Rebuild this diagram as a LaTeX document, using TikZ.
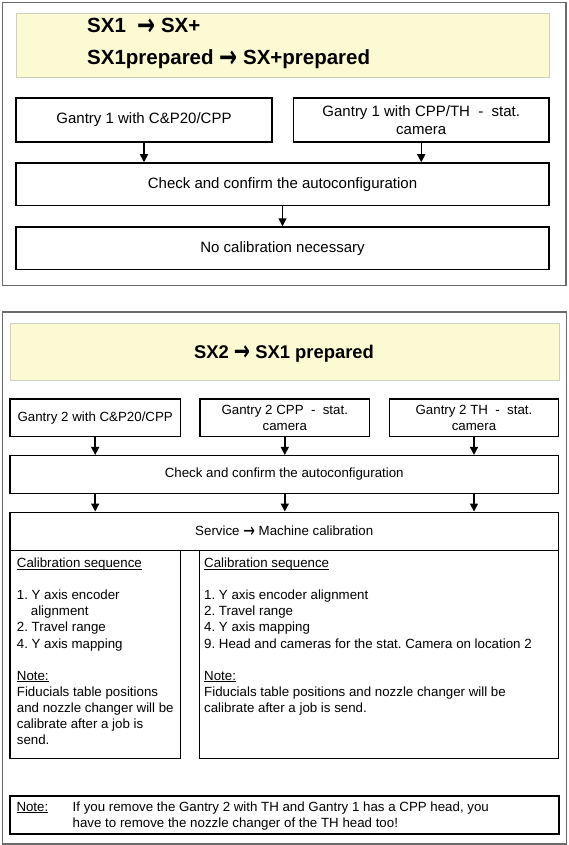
\documentclass[tikz,border=0pt]{standalone}
\usepackage{fontspec}
\usepackage{graphicx}
\setmainfont{Liberation Sans}
\newfontfamily\arrowfont{DejaVu Sans}
\usetikzlibrary{arrows.meta}
\definecolor{framegray}{HTML}{6A6A6A}
\definecolor{titlefill}{HTML}{FBFAD2}
\definecolor{titleborder}{HTML}{CFCFBE}
\newcommand\myul[1]{\leavevmode\setbox0\hbox{#1}\rlap{\rule[-2pt]{\wd0}{0.9pt}}\box0}
\newcommand\rarr{\raisebox{-0.12em}{\scalebox{1.05}[1.5]{\arrowfont →}}}
\newcommand\fA{\fontsize{15}{17.3}\selectfont}
\newcommand\fB{\fontsize{13.3}{16.5}\selectfont}
\frenchspacing
\begin{document}
\begin{tikzpicture}[x=1pt,y=-1pt,
  frame/.style={draw=framegray,line width=1.6pt},
  titlebox/.style={draw=titleborder,fill=titlefill,line width=1pt,inner sep=0pt},
  box/.style={draw=black,line width=1.5pt,fill=white,inner sep=0pt,align=center},
  txt/.style={inner sep=0pt,anchor=base west},
  arr/.style={draw=black,line width=1.5pt,-{Triangle[length=8pt,width=8pt]}}]
\useasboundingbox (0,0) rectangle (568,845);
% ---------- top panel ----------
\draw[frame] (2.5,2.5) rectangle (566,285.5);
\node[titlebox,minimum width=533pt,minimum height=64pt] (y1) at (282.5,46) {};
\node[txt,font=\fontsize{20.5}{24}\selectfont\bfseries] (t1a) at (87,33) {SX1\ \ \rarr\ SX+};
\node[txt,font=\fontsize{20.5}{24}\selectfont\bfseries] (t1b) at (87,65) {SX1prepared \rarr\ SX+prepared};
\node[box,font=\fA,minimum width=256pt,minimum height=44pt] (g1) at (144,120) {Gantry 1 with C\&P20/CPP};
\node[box,font=\fA,minimum width=255.5pt,minimum height=44pt] (g2) at (421.25,120) {Gantry 1 with CPP/TH\ \ -\ \ stat.\\camera};
\node[box,font=\fA,minimum width=533pt,minimum height=42.7pt] (ck1) at (282.5,184.35) {Check and confirm the autoconfiguration};
\node[box,font=\fA,minimum width=533pt,minimum height=42.3pt] (nc1) at (282.5,248.15) {No calibration necessary};
\draw[arr] (g1.south) -- (ck1.north -| g1.south);
\draw[arr] (g2.south) -- (ck1.north -| g2.south);
\draw[arr] (ck1.south) -- (nc1.north);
% ---------- bottom panel ----------
\draw[frame] (2.5,311.7) rectangle (566.5,844);
\node[titlebox,minimum width=549pt,minimum height=57.4pt] (y2) at (284.5,352) {};
\node[inner sep=0pt,anchor=base,font=\fontsize{18.4}{22}\selectfont\bfseries] (t2) at (284,358.3) {SX2 \rarr\ SX1 prepared};
\node[box,font=\fB,minimum width=170.4pt,minimum height=37.7pt] (ga) at (95.2,417.85) {Gantry 2 with C\&P20/CPP};
\node[box,font=\fB,minimum width=169.6pt,minimum height=37.7pt] (gb) at (284.8,417.85) {Gantry 2 CPP\ \ -\ \ stat.\\camera};
\node[box,font=\fB,minimum width=169pt,minimum height=37.7pt] (gc) at (474,417.85) {Gantry 2 TH\ \ -\ \ stat.\\camera};
\node[box,font=\fB,minimum width=548.5pt,minimum height=37.6pt] (ck2) at (284.25,474.5) {Check and confirm the autoconfiguration};
\node[box,font=\fB,minimum width=548.5pt,minimum height=38.4pt] (sv) at (284.25,531.5) {Service \rarr\ Machine calibration};
\node[box,minimum width=170.5pt,minimum height=207.6pt] (cl) at (95.25,654.5) {};
\node[box,minimum width=359.2pt,minimum height=207.6pt] (cr) at (378.9,654.5) {};
\foreach \g in {ga,gb,gc}{
  \draw[arr] (\g.south) -- (ck2.north -| \g.south);
  \draw[arr] (ck2.south -| \g.south) -- (sv.north -| \g.south);
}
\node[txt] (cltext) at (16.7,567.5) {\parbox[t]{162pt}{\fontsize{13.3}{16.1}\selectfont\raggedright
\myul{Calibration sequence}\\
\mbox{}\\
1. Y axis encoder\\
\hspace*{14pt}alignment\\
2. Travel range\\
4. Y axis mapping\\
\mbox{}\\
\myul{Note:}\\
Fiducials table positions\\
and nozzle changer will be\\
calibrate after a job is\\
send.}};
\node[txt] (crtext) at (204,567.5) {\parbox[t]{350pt}{\fontsize{13.3}{16.1}\selectfont\raggedright
\myul{Calibration sequence}\\
\mbox{}\\
1. Y axis encoder alignment\\
2. Travel range\\
4. Y axis mapping\\
9. Head and cameras for the stat. Camera on location 2\\
\mbox{}\\
\myul{Note:}\\
Fiducials table positions and nozzle changer will be\\
calibrate after a job is send.}};
\node[box,minimum width=549pt,minimum height=38pt] (nt) at (284.5,815) {};
\node[txt,font=\fB] (ntlabel) at (16.3,811) {\myul{Note:}};
\node[txt] (nttext) at (72.5,811) {\parbox[t]{480pt}{\fontsize{13.3}{16}\selectfont\raggedright
If you remove the Gantry 2 with TH and Gantry 1 has a CPP head, you\\
have to remove the nozzle changer of the TH head too!}};
\end{tikzpicture}
\end{document}
